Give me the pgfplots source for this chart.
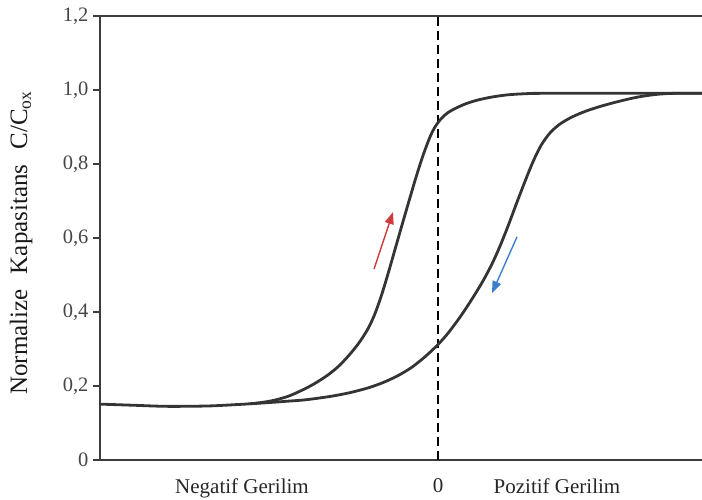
\documentclass[border=0pt]{standalone}
\usepackage{pgfplots}
\pgfplotsset{compat=1.18}
\usepackage{fontspec}
\setmainfont{Liberation Serif}
\usetikzlibrary{arrows.meta}
\definecolor{curve}{RGB}{52,52,52}
\definecolor{axisc}{RGB}{60,60,60}
\definecolor{arrred}{RGB}{205,60,60}
\definecolor{arrblue}{RGB}{60,125,205}
\definecolor{ticklab}{RGB}{70,70,70}
\begin{document}
\begin{tikzpicture}
\begin{axis}[
  at={(0,0)}, anchor=south west,
  scale only axis, width=602pt, height=444pt,
  xmin=-338, xmax=264, ymin=0, ymax=1.2,
  clip=false,
  axis lines*=left,
  axis line style={-, line width=2.4pt, color=axisc},
  ytick={0,0.2,0.4,0.6,0.8,1.0,1.2},
  yticklabels={0,{0,2},{0,4},{0,6},{0,8},{1,0},{1,2}},
  xtick={-196,0,119},
  xticklabels={Negatif Gerilim,0,Pozitif Gerilim},
  tick align=outside,
  major tick length=7pt,
  ytick style={line width=1.6pt, color=axisc},
  xtick style={draw=none},
  /pgf/number format/assume math mode=true,
  yticklabel style={font=\fontsize{20.5}{22}\selectfont, text=ticklab, xshift=-1pt},
  xticklabel style={font=\fontsize{21}{23}\selectfont, text=black!85, yshift=-8pt},
  ylabel={Normalize\hspace{0.35em} Kapasitans\hspace{0.35em} C/C\textsubscript{ox}},
  ylabel style={font=\fontsize{25}{28}\selectfont, text=black!90,
    at={(axis description cs:-0.131,0.489)}, anchor=center},
]
% top frame line
\addplot[line width=2.4pt, color=axisc] coordinates {(-345,1.2) (264,1.2)};
% dashed zero line
\addplot[line width=1.6pt, black, dash pattern=on 9pt off 5pt] coordinates {(0,0) (0,1.2)};
% forward sweep (negative to positive)
\addplot[line width=2.8pt, color=curve, smooth, tension=0.5] coordinates {
(-338,0.151) (-305,0.148) (-271,0.145) (-230,0.146) (-200,0.150)
(-188,0.152) (-175,0.156) (-163,0.162) (-150,0.172) (-138,0.186)
(-125,0.204) (-111,0.228) (-100,0.252) (-90,0.280) (-80,0.313)
(-71,0.350) (-64,0.389) (-57,0.441) (-50,0.503) (-43,0.569)
(-36,0.635) (-29,0.700) (-22,0.764) (-15,0.823) (-8,0.873)
(-3,0.900) (3,0.922) (10,0.939) (18,0.951) (28,0.963)
(40,0.973) (54,0.981) (70,0.987) (88,0.990) (110,0.991) (264,0.991)
};
% reverse sweep
\addplot[line width=2.8pt, color=curve, smooth, tension=0.5] coordinates {
(-188,0.152) (-170,0.155) (-150,0.159) (-135,0.162) (-120,0.167)
(-105,0.173) (-88,0.182) (-71,0.194) (-60,0.204) (-50,0.215)
(-38,0.231) (-26,0.251) (-13,0.279) (0,0.312) (11,0.346)
(23,0.390) (34,0.435) (45,0.484) (54,0.530) (62,0.578)
(70,0.632) (79,0.697) (87,0.753) (95,0.806) (103,0.850)
(112,0.884) (122,0.908) (134,0.927) (148,0.943) (164,0.957)
(182,0.970) (200,0.981) (218,0.988) (236,0.991) (264,0.991)
};
% direction arrows
\addplot[line width=1.4pt, color=arrred, -{Triangle[length=12pt,width=9pt]}] coordinates {(-64,0.516) (-45,0.670)};
\addplot[line width=1.4pt, color=arrblue, -{Triangle[length=12pt,width=9pt]}] coordinates {(79,0.603) (54,0.451)};
\end{axis}
\pgfresetboundingbox
\useasboundingbox (-100pt,-40pt) rectangle (602pt,460pt);
\end{tikzpicture}
\end{document}
